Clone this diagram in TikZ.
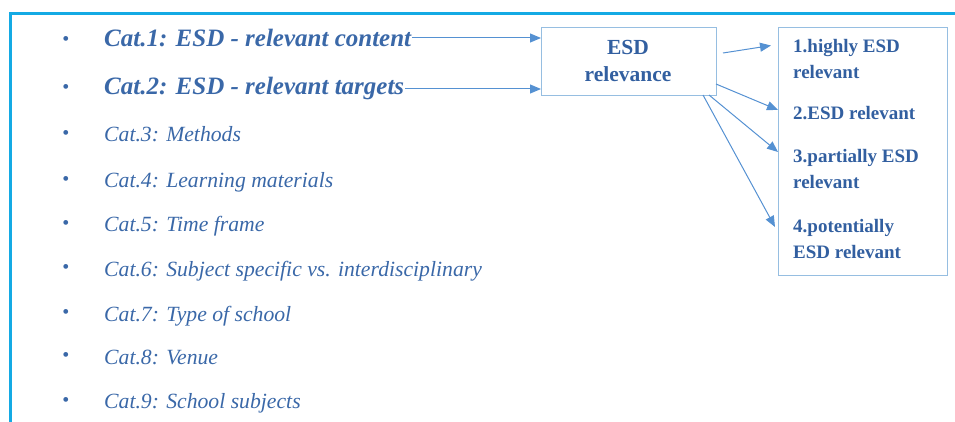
\documentclass[tikz,border=0pt]{standalone}
\usepackage{fontspec}
\setmainfont{Liberation Serif}
\usetikzlibrary{arrows.meta}
\definecolor{framec}{RGB}{20,170,228}
\definecolor{txtc}{RGB}{58,104,168}
\definecolor{boxtxt}{RGB}{50,95,160}
\definecolor{arrc}{RGB}{85,145,210}
\definecolor{boxc}{RGB}{150,190,225}
\tikzset{
  frame/.style={draw=framec, line width=3pt},
  bul/.style={text=txtc, inner sep=0pt, font=\fontsize{20}{20}\selectfont},
  catbig/.style={text=txtc, inner sep=0pt, anchor=base west, font=\fontsize{25}{26}\selectfont\bfseries\itshape},
  cat/.style={text=txtc, inner sep=0pt, anchor=base west, font=\fontsize{21.7}{24}\selectfont\itshape},
  box/.style={draw=boxc, line width=1.2pt},
  boxtext/.style={text=boxtxt, inner sep=0pt, anchor=base west, font=\fontsize{19}{20}\selectfont\bfseries},
  esdtext/.style={text=boxtxt, inner sep=0pt, anchor=base, font=\fontsize{21.5}{22}\selectfont\bfseries},
  arr/.style={draw=arrc, line width=1pt, -{Triangle[length=11pt,width=9pt]}},
}
\begin{document}
\begin{tikzpicture}[x=1pt,y=-1pt]
\useasboundingbox (0,0) rectangle (955,422);
\draw[frame] (10,423) -- (10,14) -- (956,14);
% bullets
\foreach \y/\n in {41/1,89/2,135/3,181/4,225/5,269/6,314/7,357/8,402/9}
  \node[bul] (b\n) at (66,\y) {\textbullet};
% categories
\node[catbig] (c1) at (104,47) {Cat.1: ESD - relevant content};
\node[catbig] (c2) at (104,95) {Cat.2: ESD - relevant targets};
\node[cat] (c3) at (104,142) {Cat.3: Methods};
\node[cat] (c4) at (104,187) {Cat.4: Learning materials};
\node[cat] (c5) at (104,231) {Cat.5: Time frame};
\node[cat] (c6) at (104,276) {Cat.6: Subject specific vs. interdisciplinary};
\node[cat] (c7) at (104,321) {Cat.7: Type of school};
\node[cat] (c8) at (104,364) {Cat.8: Venue};
\node[cat] (c9) at (104,408) {Cat.9: School subjects};
% ESD box
\node[box, minimum width=175pt, minimum height=68pt, anchor=north west, inner sep=0pt] (esd) at (541,27) {};
\node[esdtext] (esd1) at (628,55) {ESD};
\node[esdtext] (esd2) at (628,82) {relevance};
% result box
\node[box, minimum width=169pt, minimum height=248pt, anchor=north west, inner sep=0pt] (res) at (778,27) {};
\node[boxtext] (r1a) at (793,53) {1.highly ESD};
\node[boxtext] (r1b) at (793,79) {relevant};
\node[boxtext] (r2) at (793,120) {2.ESD relevant};
\node[boxtext] (r3a) at (793,163) {3.partially ESD};
\node[boxtext] (r3b) at (793,189) {relevant};
\node[boxtext] (r4a) at (793,232) {4.potentially};
\node[boxtext] (r4b) at (793,258) {ESD relevant};
% arrows
\coordinate (s1) at (c1.east |- 0,38);
\coordinate (s2) at (c2.east |- 0,89);
\draw[arr] ([xshift=1pt]s1) -- (esd.west |- s1);
\draw[arr] ([xshift=1pt]s2) -- (esd.west |- s2);
\coordinate (o1) at (723,53);
\coordinate (t1) at (771,45.5);
\draw[arr] (o1) -- (t1);
\coordinate (o2) at (716,84);
\coordinate (t2) at (778,110);
\draw[arr] (o2) -- (t2);
\coordinate (o3) at (709,95);
\coordinate (t3) at (778,152);
\draw[arr] (o3) -- (t3);
\coordinate (o4) at (703,95);
\coordinate (t4) at (775,227);
\draw[arr] (o4) -- (t4);
\end{tikzpicture}
\end{document}
